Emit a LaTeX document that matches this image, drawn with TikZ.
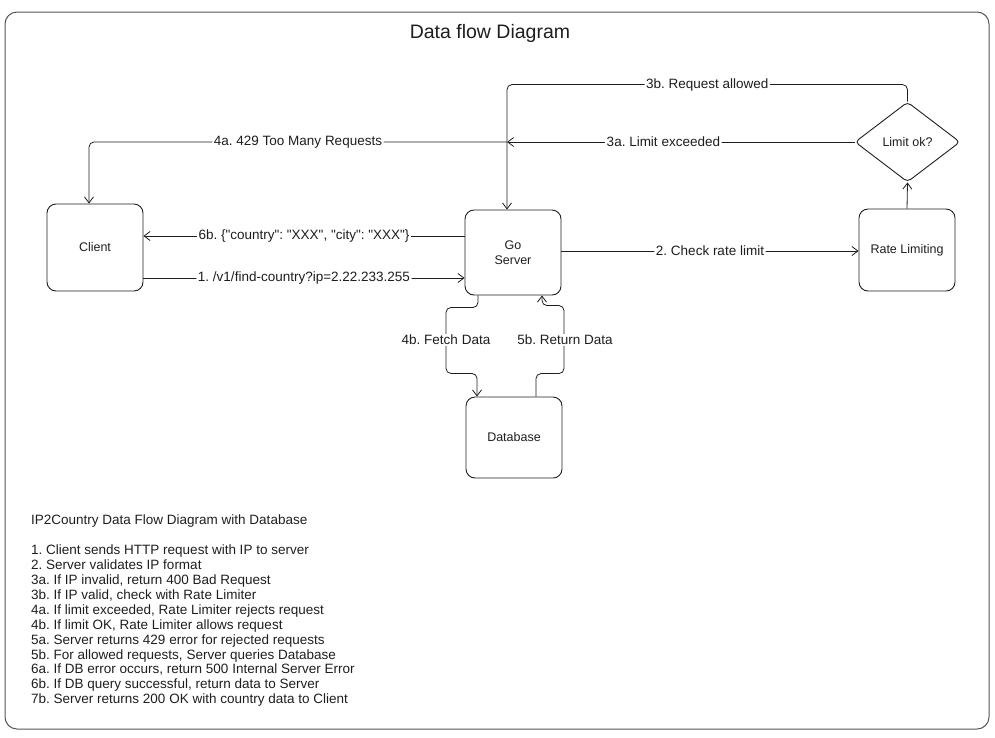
\documentclass[tikz,border=0pt]{standalone}
\usepackage{fontspec}
\setmainfont{Liberation Sans}
\usetikzlibrary{arrows.meta,shapes.geometric}
\definecolor{ink}{HTML}{1E1E1E}
\definecolor{frame}{HTML}{555555}
\frenchspacing
\begin{document}
\frenchspacing
\begin{tikzpicture}[x=1pt,y=-1pt,
  box/.style={draw=ink, line width=0.9pt, rounded corners=9pt, minimum width=96pt,
    font=\fontsize{12.5}{15}\selectfont, text=ink, align=center, inner sep=0pt},
  conn/.style={draw=ink, line width=0.8pt, -{Straight Barb[length=6pt,width=9pt]}, rounded corners=5pt},
  lbl/.style={fill=white, inner sep=1.5pt, font=\fontsize{13.5}{15}\selectfont, text=ink},
]
\useasboundingbox (0,0) rectangle (995,737);
\draw[frame, line width=1pt, rounded corners=12pt] (5,12) rectangle (989,729);

\node[font=\fontsize{19.5}{22}\selectfont, text=ink] (title) at (490,33) {Data flow Diagram};

\node[box, minimum height=87pt] (client) at (95,247.5) {Client};
\node[box, minimum height=85pt] (server) at (513,252.5) {Go\\Server};
\node[box, minimum height=82pt] (rate) at (907,250) {Rate Limiting};
\node[box, minimum height=81pt] (db) at (514,437.5) {Database};
\node[draw=ink, line width=0.9pt, diamond, minimum width=105pt, minimum height=80pt, inner sep=0pt,
  rounded corners=4pt, font=\fontsize{12.5}{15}\selectfont, text=ink] (dec) at (907.5,142) {Limit ok?};

\coordinate (j1) at (507,142);

% 1 and 6b
\draw[conn] (client.east |- 0,278) -- (server.west |- 0,278)
  node[lbl, midway] (l1) {1. /v1/find-country?ip=2.22.233.255};
\draw[conn] (server.west |- 0,236) -- (client.east |- 0,236)
  node[lbl, midway] (l6b) {6b. \{\textquotedbl country\textquotedbl: \textquotedbl XXX\textquotedbl, \textquotedbl city\textquotedbl: \textquotedbl XXX\textquotedbl\}};
% 2
\draw[conn] (server.east |- 0,251) -- (rate.west |- 0,251)
  node[lbl, midway] (l2) {2. Check rate limit};
% rate -> decision
\draw[conn] (rate.north) -- (dec.south);
% 3a
\draw[conn] (dec.west) -- (j1) node[lbl, pos=0.55] (l3a) {3a. Limit exceeded};
% 4a
\draw[conn] (j1) -| ([xshift=-6pt]client.north) node[lbl, pos=0.25] (l4a) {4a. 429 Too Many Requests};
% 3b
\draw[conn] (dec.north) -- ++(0,-17) -| ([xshift=-6pt]server.north) node[lbl, pos=0.25] (l3b) {3b. Request allowed};
% 4b
\draw[conn] ([xshift=-35pt]server.south) -- ++(0,12) -- ++(-32,0) -- ++(0,66) -- ++(31,0) -- ([xshift=-37pt]db.north);
\node[lbl] (l4b) at (446,340) {4b. Fetch Data};
% 5b
\draw[conn] ([xshift=22pt]db.north) -- ++(0,-23) -- ++(28,0) -- ++(0,-68) -- ++(-22,0) -- ([xshift=29pt]server.south);
\node[lbl] (l5b) at (565,340) {5b. Return Data};

% notes
\node[anchor=north west, align=left, inner sep=0pt, text=ink, font=\fontsize{13.5}{14.9}\selectfont] (notes) at (31,515) {%
IP2Country Data Flow Diagram with Database\\[14.9pt]
1. Client sends HTTP request with IP to server\\
2. Server validates IP format\\
3a. If IP invalid, return 400 Bad Request\\
3b. If IP valid, check with Rate Limiter\\
4a. If limit exceeded, Rate Limiter rejects request\\
4b. If limit OK, Rate Limiter allows request\\
5a. Server returns 429 error for rejected requests\\
5b. For allowed requests, Server queries Database\\
6a. If DB error occurs, return 500 Internal Server Error\\
6b. If DB query successful, return data to Server\\
7b. Server returns 200 OK with country data to Client};
\end{tikzpicture}
\end{document}
